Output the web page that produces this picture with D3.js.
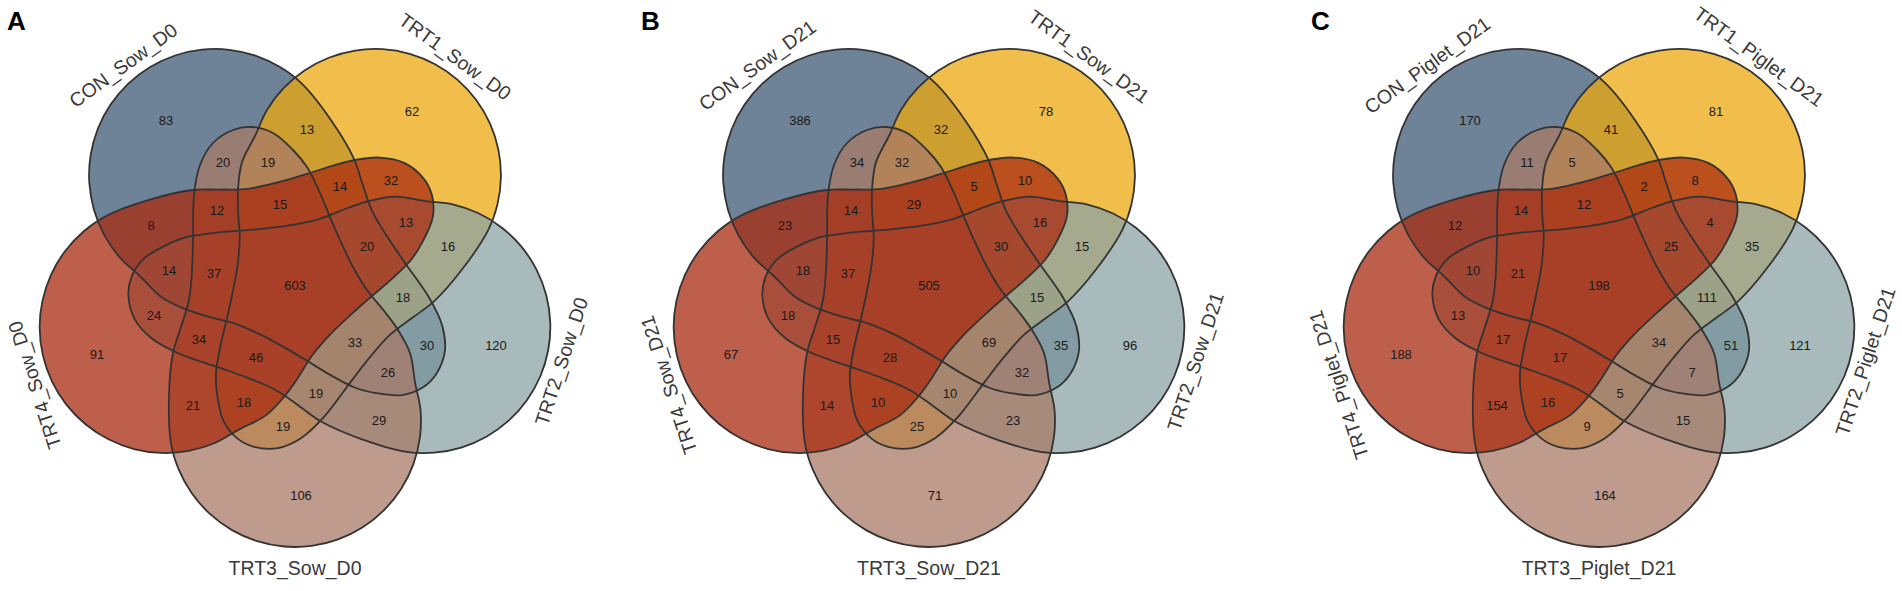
<!DOCTYPE html>
<html>
<head>
<meta charset="utf-8">
<script src="https://cdn.jsdelivr.net/npm/d3@7"></script>
<style>
  body { margin: 0; background: #fff; }
  svg text { font-family: "Liberation Sans", Arial, sans-serif; }
</style>
</head>
<body>
<div id="chart"></div>
<script>
// ---- data ----
const panelLetters = ["A", "B", "C"];
const setNamesA = ["CON_Sow_D0", "TRT1_Sow_D0", "TRT2_Sow_D0", "TRT3_Sow_D0", "TRT4_Sow_D0"];
const setNamesB = ["CON_Sow_D21", "TRT1_Sow_D21", "TRT2_Sow_D21", "TRT3_Sow_D21", "TRT4_Sow_D21"];
const setNamesC = ["CON_Piglet_D21", "TRT1_Piglet_D21", "TRT2_Piglet_D21", "TRT3_Piglet_D21", "TRT4_Piglet_D21"];

// region = which sets it belongs to (0 = CON, 1 = TRT1, 2 = TRT2, 3 = TRT3, 4 = TRT4)
const regionKeys = [
  "0", "1", "2", "3", "4",
  "01", "12", "23", "34", "04",
  "03", "14", "02", "13", "24",
  "013", "124", "023", "134", "024",
  "014", "012", "123", "234", "034",
  "0123", "1234", "0234", "0134", "0124",
  "01234"
];
const countsA = [83, 62, 120, 106, 91, 13, 16, 29, 21, 8, 20, 32, 30, 19, 24,
  19, 13, 26, 18, 14, 14, 18, 19, 34, 12, 33, 46, 37, 15, 20, 603];
const countsB = [386, 78, 96, 71, 67, 32, 15, 23, 14, 23, 34, 10, 35, 25, 18,
  32, 16, 32, 10, 18, 5, 15, 10, 15, 14, 69, 28, 37, 29, 30, 505];
const countsC = [170, 81, 121, 164, 188, 41, 35, 15, 154, 12, 11, 8, 51, 9, 13,
  5, 4, 7, 16, 10, 2, 111, 5, 17, 14, 34, 17, 21, 12, 25, 198];

const panels = [
  { letter: panelLetters[0], names: setNamesA, counts: countsA },
  { letter: panelLetters[1], names: setNamesB, counts: countsB },
  { letter: panelLetters[2], names: setNamesC, counts: countsC }
];

// ---- look ----
const setColors = ["#3e5876", "#eea80f", "#8ba3a6", "#a87a66", "#a82a0f"];
const lobeAngle = [324, 36, 108, 180, 252];       // where each set's own lobe points
const labelAngle = [322, 35, 106, 180, 249];
const labelDist = [279, 279, 277, 283, 279];
const labelTurn = [-36, 36, -72, 0, -108];
const panelX = [0, 634, 1304];
const cx = 295, cy = 285;

// outline of the set whose lobe hangs at the bottom, in px around the centre:
// neck and tip as traced, lobe as a round arc
const neckRight = [[-43, -158], [-22, -152], [-2, -135], [12, -118], [25, -92], [35, -68],
  [45, -45], [58, -18], [72, 5], [90, 27], [103, 45], [115, 68]];
const neckLeft = [[-126, 110], [-122, 68], [-114, 42], [-106, 15], [-103, -15], [-102, -45],
  [-101, -90], [-95, -120], [-82, -142], [-62, -155]];
const lobeCentre = [0, 136], lobeRadius = 126;
const lobeArc = d3.range(-17.5, 180.1, 12.5).map(t => [
  lobeCentre[0] + lobeRadius * Math.cos(t * Math.PI / 180),
  lobeCentre[1] + lobeRadius * Math.sin(t * Math.PI / 180)
]);
const template = [...neckRight, ...lobeArc, ...neckLeft];

const size = d3.scaleLinear().domain([0, 1]).range([0, 1]);   // template px -> screen px
const toRad = d3.scaleLinear().domain([0, 360]).range([0, 2 * Math.PI]);
const outline = d3.line().curve(d3.curveCatmullRomClosed.alpha(0.5));
const setPoints = i => {
  const t = toRad(lobeAngle[i] - 180), c = Math.cos(t), s = Math.sin(t);
  return template.map(([x, y]) => [size(x * c - y * s), size(x * s + y * c)]);
};
const setPath = i => outline(setPoints(i));

const svg = d3.select("#chart").append("svg")
  .attr("width", 1902)
  .attr("height", 591);

// ---- where to write each count: roomy spot near the region's middle ----
const probe = svg.append("g").attr("visibility", "hidden");
const polys = d3.range(5).map(i => {
  const node = probe.append("path").attr("d", setPath(i)).node();
  const len = node.getTotalLength();
  return d3.range(400).map(k => {
    const p = node.getPointAtLength(len * k / 400);
    return [p.x, p.y];
  });
});
probe.remove();
const edgePts = polys.flat();
const delaunay = d3.Delaunay.from(edgePts);
const cells = new Map();
let hint = 0;
for (let y = -285; y <= 285; y += 3) {
  for (let x = -285; x <= 285; x += 3) {
    let key = "";
    for (let i = 0; i < 5; i++) if (d3.polygonContains(polys[i], [x, y])) key += i;
    if (!key) continue;
    hint = delaunay.find(x, y, hint);
    const d = Math.hypot(edgePts[hint][0] - x, edgePts[hint][1] - y);   // room to nearest edge
    if (!cells.has(key)) cells.set(key, []);
    cells.get(key).push({ x, y, d });
  }
}
const spot = new Map();
cells.forEach((pts, key) => {
  const mx = d3.mean(pts, p => p.x), my = d3.mean(pts, p => p.y);
  spot.set(key, d3.greatest(pts, p => p.d - 0.5 * Math.hypot(p.x - mx, p.y - my)));
});

// ---- draw ----
panels.forEach((pn, k) => {
  svg.append("text")
    .attr("x", panelX[k] + 7)
    .attr("y", 30)
    .attr("font-size", 26)
    .attr("font-weight", "bold")
    .attr("fill", "#000")
    .text(pn.letter);

  const g = svg.append("g").attr("transform", `translate(${panelX[k] + cx},${cy})`);

  // fills first, all outlines on top so every edge stays equally dark
  g.selectAll("path.fill")
    .data(d3.range(5))
    .join("path")
    .attr("class", "fill")
    .attr("d", setPath)
    .attr("fill", i => setColors[i])
    .attr("fill-opacity", 0.75)
    .attr("stroke", "none");

  g.selectAll("path.edge")
    .data(d3.range(5))
    .join("path")
    .attr("class", "edge")
    .attr("d", setPath)
    .attr("fill", "none")
    .attr("stroke", "#333")
    .attr("stroke-width", 1.8);

  g.selectAll("text.count")
    .data(regionKeys.map((key, j) => ({ key, value: pn.counts[j] })))
    .join("text")
    .attr("class", "count")
    .attr("x", d => spot.get(d.key).x)
    .attr("y", d => spot.get(d.key).y)
    .attr("text-anchor", "middle")
    .attr("dominant-baseline", "central")
    .attr("font-size", 13)
    .attr("fill", "#1a1a1a")
    .text(d => d.value);

  g.selectAll("text.setname")
    .data(d3.range(5))
    .join("text")
    .attr("class", "setname")
    .attr("transform", i => {
      const [x, y] = d3.pointRadial(toRad(labelAngle[i]), labelDist[i]);
      return `translate(${x},${y}) rotate(${labelTurn[i]})`;
    })
    .attr("text-anchor", "middle")
    .attr("dominant-baseline", "central")
    .attr("font-size", 19.5)
    .attr("fill", "#3a3a3a")
    .text(i => pn.names[i]);
});
</script>
</body>
</html>
